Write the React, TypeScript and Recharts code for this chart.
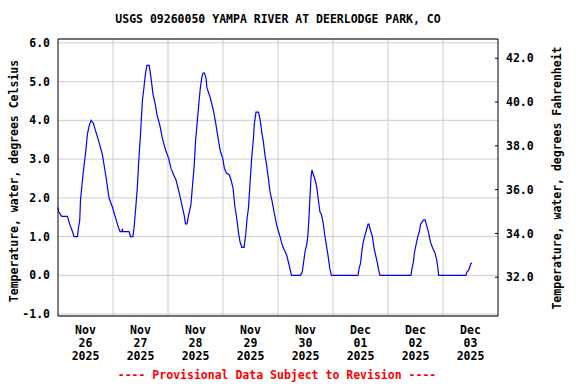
import {
  LineChart,
  Line,
  XAxis,
  YAxis,
  CartesianGrid,
  ReferenceLine,
} from 'recharts';

// hours since Nov 26 2025 00:00, and water temperature in deg C
const hours = [
  0, 0.3, 1.6, 4.1, 5.1, 6.3, 7.0, 8.5, 8.9, 9.5, 9.8, 10.5, 11.2, 12.1, 12.8, 13.5, 14.4,
  15.4, 16.5, 17.9, 19.4, 20.8, 22.3, 23.7, 25.2, 26.4, 27.1, 27.9, 28.1, 28.3, 31.0, 31.7,
  32.7, 33.3, 33.9, 34.6, 35.3, 36.0, 36.8, 37.6, 38.1, 38.8, 39.8, 40.6, 41.5, 42.5, 43.2,
  44.0, 44.7, 45.4, 46.1, 47.1, 48.3, 49.3, 50.5, 51.5, 52.4, 53.4, 54.4, 55.2, 55.6, 56.3,
  57.0, 58.0, 58.6, 59.5, 60.0, 60.4, 61.4, 62.1, 62.8, 63.3, 63.9, 64.6, 65.0, 65.8, 66.5,
  67.2, 67.9, 68.7, 69.4, 70.1, 70.9, 71.9, 72.6, 73.5, 74.8, 75.5, 76.4, 77.2, 78.0, 78.7,
  79.4, 80.2, 81.2, 81.9, 82.5, 83.1, 83.8, 84.5, 85.3, 85.7, 86.4, 87.5, 88.2, 88.9, 89.6,
  90.3, 91.1, 91.8, 92.5, 93.3, 94.0, 94.7, 95.4, 96.2, 96.9, 97.6, 98.4, 99.1, 99.8, 100.5,
  101.2, 101.9, 105.8, 106.6, 107.1, 107.8, 108.5, 109.0, 109.5, 110.0, 110.4, 110.8, 111.5,
  112.2, 112.9, 113.6, 114.3, 114.9, 115.6, 116.4, 117.1, 117.8, 118.6, 119.3, 130.9, 131.4,
  132.0, 132.5, 133.1, 133.8, 134.6, 135.3, 135.7, 136.3, 137.2, 137.9, 138.6, 139.4, 139.9,
  140.5, 154.0, 154.5, 155.1, 155.5, 156.2, 157.0, 157.7, 158.2, 159.5, 160.2, 160.6, 161.6,
  162.5, 163.5, 164.3, 165.1, 165.7, 166.1, 178.0, 178.5, 179.2, 179.7, 180.2, 180.7,
];

const tempC = [
  1.75, 1.64, 1.52, 1.52, 1.32, 1.13, 1.0, 1.0, 1.21, 1.43, 1.93, 2.35, 2.76, 3.19, 3.63, 3.84, 4.0,
  3.93, 3.71, 3.44, 3.11, 2.59, 1.99, 1.77, 1.47, 1.23, 1.13, 1.13, 1.2, 1.13, 1.13, 1.0,
  1.0, 1.3, 1.73, 2.25, 3.02, 3.63, 4.49, 4.9, 5.18, 5.42, 5.42, 5.09, 4.66, 4.4, 4.14,
  3.97, 3.8, 3.58, 3.41, 3.21, 3.02, 2.76, 2.59, 2.46, 2.25, 1.99, 1.73, 1.51, 1.33, 1.33,
  1.56, 1.82, 2.25, 2.89, 3.45, 3.71, 4.4, 4.83, 5.13, 5.22, 5.22, 5.09, 4.83, 4.7, 4.57,
  4.4, 4.23, 3.97, 3.71, 3.45, 3.19, 3.02, 2.76, 2.64, 2.59, 2.46, 2.25, 1.77, 1.47, 1.13,
  0.87, 0.72, 0.72, 1.04, 1.47, 1.73, 2.38, 3.02, 3.54, 3.93, 4.21, 4.21, 4.01, 3.71, 3.45,
  3.11, 2.81, 2.51, 2.16, 1.95, 1.73, 1.51, 1.3, 1.13, 1.0, 0.83, 0.7, 0.61, 0.52, 0.35,
  0.18, 0, 0, 0.09, 0.31, 0.61, 0.78, 1.0, 1.47, 2.07, 2.51, 2.72, 2.59,
  2.46, 2.29, 1.95, 1.64, 1.58, 1.39, 1.04, 0.78, 0.52, 0.18, 0, 0, 0.18,
  0.31, 0.57, 0.83, 1.0, 1.17, 1.32, 1.32, 1.17, 1.0, 0.7, 0.52, 0.31, 0.14,
  0, 0, 0.18, 0.35, 0.57, 0.78, 1.0, 1.13, 1.32, 1.43, 1.43, 1.34, 1.13,
  0.87, 0.7, 0.61, 0.44, 0.22, 0, 0, 0.09, 0.13, 0.22, 0.31, 0.31,
];

const dayMonths = ['Nov', 'Nov', 'Nov', 'Nov', 'Nov', 'Dec', 'Dec', 'Dec'];
const dayNums = ['26', '27', '28', '29', '30', '01', '02', '03'];
const dayYears = ['2025', '2025', '2025', '2025', '2025', '2025', '2025', '2025'];
const labelHours = [12, 36, 60, 84, 108, 132, 156, 180];
const midnightHours = [24, 48, 72, 96, 120, 144, 168];
const celsiusTicks = [-1, 0, 1, 2, 3, 4, 5, 6];
const fahrenheitTicks = [32, 34, 36, 38, 40, 42];

const FONT = '"DejaVu Sans Mono", monospace';

const data = hours.map((h, i) => ({ h, t: tempC[i] }));

function DateTick({ x, y, payload }: any) {
  const i = labelHours.indexOf(payload.value);
  return (
    <text x={x} textAnchor="middle" fontFamily={FONT} fontWeight="bold" fontSize={11.5} fill="#000">
      <tspan x={x} y={y + 10}>{dayMonths[i]}</tspan>
      <tspan x={x} y={y + 23}>{dayNums[i]}</tspan>
      <tspan x={x} y={y + 35.5}>{dayYears[i]}</tspan>
    </text>
  );
}

const tickStyle = { fill: '#000', fontSize: 11.5, fontFamily: FONT, fontWeight: 'bold' as const };

const titleStyle = { fontSize: 11.5, fontWeight: 'bold' as const, color: '#000', whiteSpace: 'pre' as const };

function SideLabel({ x, y, text }: { x: number; y: number; text: string }) {
  return (
    <div style={{ position: 'absolute', left: x, top: y, width: 0, height: 0 }}>
      <div style={{ ...titleStyle, position: 'absolute', transform: 'translate(-50%, -50%) rotate(-90deg)' }}>
        {text}
      </div>
    </div>
  );
}

export default function App() {
  return (
    <div style={{ position: 'absolute', left: 0, top: 0, width: 576, height: 384, background: '#fff', fontFamily: FONT }}>
      <div style={{ ...titleStyle, position: 'absolute', left: 0, top: 12, width: 556, textAlign: 'center' }}>
        USGS 09260050 YAMPA RIVER AT DEERLODGE PARK, CO
      </div>
      <LineChart width={576} height={384} data={data} margin={{ top: 0, right: 0, bottom: 0, left: 0 }}>
        <CartesianGrid xAxisId="bottom" yAxisId="c" vertical={false} stroke="#cccccc" />
        <XAxis
          xAxisId="top"
          orientation="top"
          dataKey="h"
          type="number"
          domain={[0, 192]}
          height={39}
          tick={false}
          tickLine={false}
          axisLine={{ stroke: '#000' }}
        />
        <XAxis
          xAxisId="bottom"
          dataKey="h"
          type="number"
          domain={[0, 192]}
          ticks={labelHours}
          interval={0}
          height={68}
          tickLine={false}
          axisLine={{ stroke: '#000' }}
          tick={<DateTick />}
        />
        <YAxis
          yAxisId="c"
          type="number"
          domain={[-1.05, 6.1]}
          ticks={celsiusTicks}
          interval={0}
          width={58}
          tickLine={false}
          axisLine={{ stroke: '#000' }}
          tick={tickStyle}
          tickFormatter={(v: number) => v.toFixed(1)}
          allowDataOverflow
        />
        <YAxis
          yAxisId="f"
          orientation="right"
          type="number"
          domain={[30.23, 42.88]}
          ticks={fahrenheitTicks}
          interval={0}
          width={78}
          tickSize={-3}
          tickMargin={11}
          tickLine={{ stroke: '#000' }}
          axisLine={{ stroke: '#000' }}
          tick={{ ...tickStyle, textAnchor: 'start' }}
          tickFormatter={(v: number) => v.toFixed(1)}
          allowDataOverflow
        />
        {midnightHours.map((m) => (
          <ReferenceLine key={m} x={m} xAxisId="bottom" yAxisId="c" stroke="#cccccc" />
        ))}
        <Line
          xAxisId="bottom"
          yAxisId="c"
          type="linear"
          dataKey="t"
          stroke="#0000ff"
          strokeWidth={1.2}
          dot={false}
          isAnimationActive={false}
        />
      </LineChart>
      <SideLabel x={14} y={181} text="Temperature, water, degrees Celsius" />
      <SideLabel x={557} y={178} text="Temperature, water, degrees Fahrenheit" />
      <div style={{ ...titleStyle, position: 'absolute', left: 0, top: 368, width: 554, textAlign: 'center', color: '#ff0000' }}>
        ---- Provisional Data Subject to Revision ----
      </div>
    </div>
  );
}
